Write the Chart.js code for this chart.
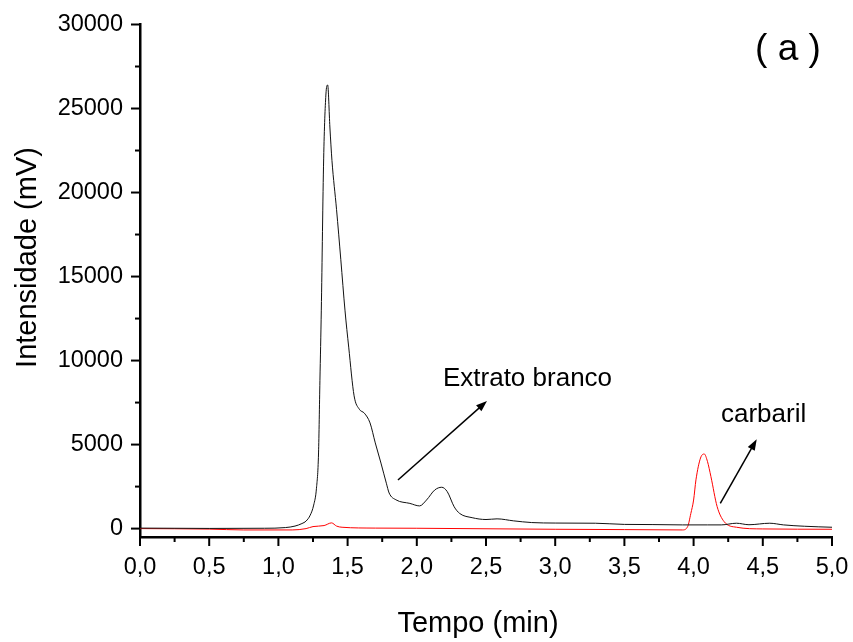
<!DOCTYPE html>
<html>
<head>
<meta charset="utf-8">
<script src="https://cdn.jsdelivr.net/npm/chart.js@4/dist/chart.umd.min.js"></script>
<style>
    html, body { margin: 0; padding: 0; background: #fff; }
    canvas { display: block; }
</style>
</head>
<body>
<canvas id="chart" width="853" height="642"></canvas>
<script>
// Chromatogram data
const blankTime = [0.0, 0.5, 0.9, 1.05, 1.12, 1.17, 1.20, 1.23, 1.255, 1.275, 1.29, 1.30, 1.31, 1.327, 1.343, 1.356, 1.372, 1.387, 1.42, 1.451, 1.481, 1.508, 1.547, 1.585, 1.621, 1.662, 1.70, 1.741, 1.78, 1.80, 1.85, 1.95, 2.02, 2.07, 2.13, 2.18, 2.22, 2.27, 2.31, 2.40, 2.50, 2.58, 2.70, 2.83, 3.0, 3.29, 3.5, 3.7, 3.92, 4.1, 4.2, 4.31, 4.4, 4.55, 4.65, 4.8, 5.0];
const blankSignal = [30, 10, 20, 60, 150, 300, 450, 800, 1400, 2400, 4500, 8800, 13000, 22000, 25800, 26400, 23900, 21900, 19000, 16000, 13000, 10800, 7900, 7100, 6870, 6290, 5100, 3900, 2700, 2120, 1710, 1500, 1350, 1700, 2300, 2460, 2200, 1300, 900, 650, 540, 580, 460, 360, 330, 320, 250, 240, 220, 220, 220, 320, 230, 320, 220, 140, 80];

const carbarylTime = [0.0, 0.5, 0.75, 1.1, 1.2, 1.25, 1.33, 1.384, 1.42, 1.46, 1.7, 2.0, 2.5, 3.0, 3.5, 3.92, 3.957, 3.98, 4.0, 4.017, 4.05, 4.077, 4.1, 4.125, 4.17, 4.22, 4.31, 4.5, 5.0];
const carbarylSignal = [0, -30, -80, -80, 0, 120, 180, 340, 150, 80, 30, 20, -10, -40, -60, -80, 120, 900, 1700, 2900, 4200, 4440, 4000, 3100, 1310, 420, 80, -20, -40];

// Axis ticks
const xTicks = [0, 0.5, 1, 1.5, 2, 2.5, 3, 3.5, 4, 4.5, 5];
const xMinorTicks = [0.25, 0.75, 1.25, 1.75, 2.25, 2.75, 3.25, 3.75, 4.25, 4.75];
const yTicks = [0, 5000, 10000, 15000, 20000, 25000, 30000];
const yMinorTicks = [2500, 7500, 12500, 17500, 22500, 27500];

// Annotations in data units
const labelTexts = ['Extrato branco', 'carbaril', '( a )'];
const labelX = [2.189, 4.198, 4.444];
const labelY = [8486, 6362, 27888];
const labelSizes = [26, 26, 37];
const arrowFrom = [[1.864, 2892], [4.193, 1506]];
const arrowTo = [[2.507, 7594], [4.456, 5314]];

const FONT = '"Liberation Sans", Arial, sans-serif';

function toPoints(xs, ys) {
    return xs.map((x, i) => ({ x: x, y: ys[i] }));
}

// Draw ticks, axis titles and annotations
const decorPlugin = {
    id: 'decor',
    afterDraw(chart) {
        const ctx = chart.ctx;
        const xs = chart.scales.x;
        const ys = chart.scales.y;
        const area = chart.chartArea;

        ctx.save();
        ctx.strokeStyle = '#000';
        ctx.lineWidth = 2;
        // x ticks (downward)
        xTicks.concat(xMinorTicks).forEach(v => {
            const px = xs.getPixelForValue(v);
            const len = xMinorTicks.includes(v) ? 5 : 9;
            ctx.beginPath();
            ctx.moveTo(px, area.bottom);
            ctx.lineTo(px, area.bottom + len);
            ctx.stroke();
        });
        // y ticks (leftward)
        yTicks.concat(yMinorTicks).forEach(v => {
            const py = ys.getPixelForValue(v);
            const len = yMinorTicks.includes(v) ? 5 : 9;
            ctx.beginPath();
            ctx.moveTo(area.left, py);
            ctx.lineTo(area.left - len, py);
            ctx.stroke();
        });

        // axis titles
        ctx.fillStyle = '#000';
        ctx.font = '29px ' + FONT;
        ctx.textAlign = 'center';
        ctx.textBaseline = 'alphabetic';
        ctx.fillText('Tempo (min)', 478, 631.5);
        ctx.save();
        ctx.translate(36, 257.5);
        ctx.rotate(-Math.PI / 2);
        ctx.fillText('Intensidade (mV)', 0, 0);
        ctx.restore();

        // text labels
        ctx.textAlign = 'left';
        labelTexts.forEach((t, i) => {
            ctx.font = labelSizes[i] + 'px ' + FONT;
            ctx.fillText(t, xs.getPixelForValue(labelX[i]), ys.getPixelForValue(labelY[i]));
        });

        // arrows
        ctx.lineWidth = 1.5;
        arrowFrom.forEach((from, i) => {
            const x1 = xs.getPixelForValue(from[0]);
            const y1 = ys.getPixelForValue(from[1]);
            const x2 = xs.getPixelForValue(arrowTo[i][0]);
            const y2 = ys.getPixelForValue(arrowTo[i][1]);
            const ang = Math.atan2(y2 - y1, x2 - x1);
            const head = 11;
            ctx.beginPath();
            ctx.moveTo(x1, y1);
            ctx.lineTo(x2 - Math.cos(ang) * head * 0.8, y2 - Math.sin(ang) * head * 0.8);
            ctx.stroke();
            ctx.beginPath();
            ctx.moveTo(x2, y2);
            ctx.lineTo(x2 - head * Math.cos(ang) + 4 * Math.sin(ang), y2 - head * Math.sin(ang) - 4 * Math.cos(ang));
            ctx.lineTo(x2 - head * Math.cos(ang) - 4 * Math.sin(ang), y2 - head * Math.sin(ang) + 4 * Math.cos(ang));
            ctx.closePath();
            ctx.fill();
        });
        ctx.restore();
    }
};

new Chart(document.getElementById('chart'), {
    type: 'line',
    data: {
        datasets: [
            {
                label: 'Extrato branco',
                data: toPoints(blankTime, blankSignal),
                borderColor: '#111111',
                borderWidth: 1,
                pointRadius: 0,
                cubicInterpolationMode: 'monotone'
            },
            {
                label: 'carbaril',
                data: toPoints(carbarylTime, carbarylSignal),
                borderColor: '#ff0000',
                borderWidth: 1,
                pointRadius: 0,
                cubicInterpolationMode: 'monotone'
            }
        ]
    },
    options: {
        responsive: false,
        animation: false,
        layout: { padding: { top: 24.5, right: 21, left: 0, bottom: 0 } },
        plugins: {
            legend: { display: false },
            tooltip: { enabled: false }
        },
        scales: {
            x: {
                type: 'linear',
                min: 0,
                max: 5,
                grid: { display: false, drawTicks: false },
                border: { display: true, color: '#000', width: 2.5 },
                afterBuildTicks: scale => { scale.ticks = xTicks.map(v => ({ value: v })); },
                afterFit: scale => {
                    scale.height = 105;
                    scale.paddingLeft = 0;
                    scale.paddingRight = 0;
                },
                ticks: {
                    color: '#000',
                    font: { family: FONT, size: 23.5 },
                    padding: 16,
                    maxRotation: 0,
                    callback: v => v.toFixed(1).replace('.', ',')
                }
            },
            y: {
                type: 'linear',
                min: -500,
                max: 30000,
                grid: { display: false, drawTicks: false },
                border: { display: true, color: '#000', width: 2.5 },
                afterBuildTicks: scale => { scale.ticks = yTicks.map(v => ({ value: v })); },
                afterFit: scale => {
                    scale.width = 140;
                    scale.paddingTop = 0;
                    scale.paddingBottom = 0;
                },
                ticks: {
                    color: '#000',
                    font: { family: FONT, size: 23.5 },
                    padding: 17,
                    callback: v => String(v)
                }
            }
        }
    },
    plugins: [decorPlugin]
});
</script>
</body>
</html>
